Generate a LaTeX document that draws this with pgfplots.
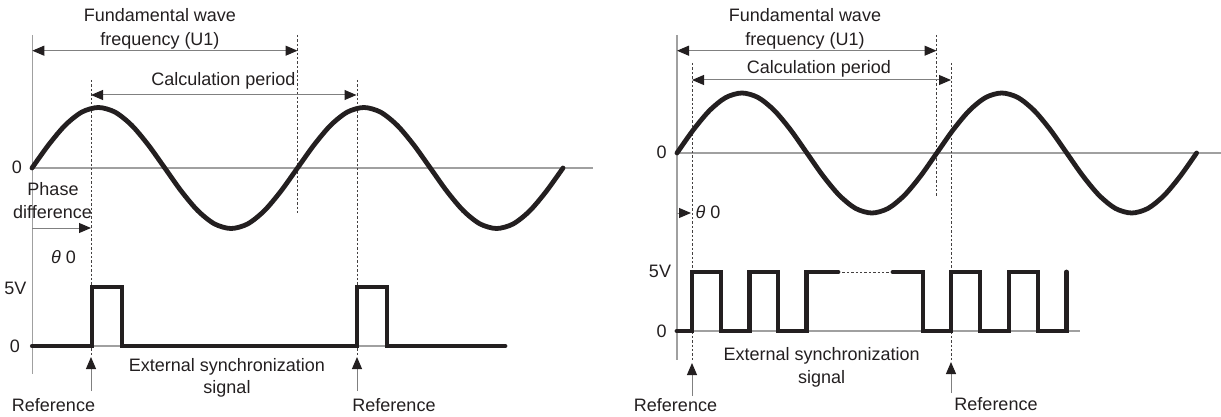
\documentclass[border=0pt]{standalone}
\usepackage{fontspec}
\setmainfont{Liberation Sans}
\usepackage{pgfplots}
\pgfplotsset{compat=1.18}
\usetikzlibrary{arrows.meta}

\definecolor{ink}{HTML}{231F20}
\definecolor{axgray}{HTML}{A0A0A0}
\definecolor{dimgray}{HTML}{808080}

% 1 px of the reference = 0.5pt; y runs downward like the picture
\pgfplotsset{
  panel/.style={
    scale only axis, hide axis, y dir=reverse,
    ymin=0, ymax=417, height=208.5pt, clip=false,
  },
}
\tikzset{
  lbl/.style={anchor=base, text=ink, font=\fontsize{9}{11}\selectfont, inner sep=0pt},
  dim/.style={draw=dimgray, line width=0.5pt, {Triangle[length=6pt, width=5pt, color=ink]}-{Triangle[length=6pt, width=5pt, color=ink]}},
  one/.style={draw=dimgray, line width=0.5pt, -{Triangle[length=6pt, width=5pt, color=ink]}},
  guide/.style={draw=ink!85, line width=0.4pt, dash pattern=on 1.2pt off 1pt},
  base/.style={draw=axgray, line width=0.7pt},
  wave/.style={ink, line width=2.4pt, line cap=round, line join=miter},
}

\begin{document}
\begin{tikzpicture}

%---------------- left panel: single pulse per period
\begin{axis}[panel, xmin=0, xmax=610, width=305pt]
  % axes
  \draw[base] (axis cs:32.3,35) -- (axis cs:32.3,374);
  \draw[base] (axis cs:32.3,168) -- (axis cs:593,168);
  \draw[base] (axis cs:32.3,346) -- (axis cs:505,346);
  % guides
  \draw[guide] (axis cs:91,80) -- (axis cs:91,357);
  \draw[guide] (axis cs:297.5,35) -- (axis cs:297.5,213);
  \draw[guide] (axis cs:357,80) -- (axis cs:357,355);

  \addplot[wave, smooth, no marks] coordinates {
    (32.0,168)(48.6,144.85)(65.2,125.22)(81.8,112.10)(98.4,107.5)
    (115.0,112.10)(131.6,125.22)(148.2,144.85)(164.8,168)
    (181.3,191.15)(197.9,210.78)(214.5,223.90)(231.1,228.5)
    (247.7,223.90)(264.3,210.78)(280.9,191.15)(297.5,168)
    (314.1,144.85)(330.7,125.22)(347.3,112.10)(363.9,107.5)
    (380.5,112.10)(397.1,125.22)(413.7,144.85)(430.3,168)
    (446.8,191.15)(463.4,210.78)(480.0,223.90)(496.6,228.5)
    (513.2,223.90)(529.8,210.78)(546.4,191.15)(563.0,168)
  };
  \addplot[wave, sharp plot, no marks] coordinates {
    (32.3,346)(92,346)(92,287)(122,287)(122,346)
    (357,346)(357,287)(387,287)(387,346)(505,346)
  };

  % arrows
  \draw[dim] (axis cs:32.3,50.7) -- (axis cs:297.5,50.7);
  \draw[dim] (axis cs:91,95) -- (axis cs:356.5,95);
  \draw[one] (axis cs:32.3,228) -- (axis cs:91,228);
  \draw[one] (axis cs:91,391) -- (axis cs:91,357);
  \draw[one] (axis cs:357,391) -- (axis cs:357,357);

  % texts
  \node[lbl] at (axis cs:160,22) {Fundamental wave};
  \node[lbl] at (axis cs:160,46) {frequency (U1)};
  \node[lbl] at (axis cs:223.5,86) {Calculation period};
  \node[lbl] at (axis cs:17,174) {0};
  \node[lbl] at (axis cs:53,195) {Phase};
  \node[lbl] at (axis cs:52.5,219) {difference};
  \node[lbl] at (axis cs:63.5,263) {\textit{θ} 0};
  \node[lbl] at (axis cs:15.5,294) {5V};
  \node[lbl] at (axis cs:15,352) {0};
  \node[lbl] at (axis cs:227,371) {External synchronization};
  \node[lbl] at (axis cs:227,393) {signal};
  \node[lbl] at (axis cs:53.5,411) {Reference};
  \node[lbl] at (axis cs:394,411) {Reference};
\end{axis}

%---------------- right panel: square wave
\begin{axis}[panel, xmin=610, xmax=1221, width=305.5pt, at={(305pt,0)}]
  \draw[base] (axis cs:677,35) -- (axis cs:677,360);
  \draw[base] (axis cs:677,153) -- (axis cs:1221,153);
  \draw[base] (axis cs:677,331) -- (axis cs:1080,331);
  \draw[guide] (axis cs:692,63) -- (axis cs:692,362);
  \draw[guide] (axis cs:936.7,35) -- (axis cs:936.7,197);
  \draw[guide] (axis cs:951,63) -- (axis cs:951,361);
  \draw[guide] (axis cs:838,272) -- (axis cs:893,272);

  \addplot[wave, smooth, no marks] coordinates {
    (677.0,153)(693.2,130.04)(709.5,110.57)(725.7,97.57)(741.95,93)
    (758.2,97.57)(774.4,110.57)(790.7,130.04)(806.9,153)
    (823.1,175.96)(839.4,195.43)(855.6,208.43)(871.9,213)
    (888.1,208.43)(904.3,195.43)(920.6,175.96)(936.8,153)
    (953.0,130.04)(969.3,110.57)(985.5,97.57)(1001.75,93)
    (1018.0,97.57)(1034.2,110.57)(1050.5,130.04)(1066.7,153)
    (1082.9,175.96)(1099.2,195.43)(1115.4,208.43)(1131.7,213)
    (1147.9,208.43)(1164.1,195.43)(1180.4,175.96)(1196.6,153)
  };
  \addplot[wave, sharp plot, no marks] coordinates {
    (677,331)(692,331)(692,272)(721,272)(721,331)(749.5,331)(749.5,272)
    (778,272)(778,331)(806.5,331)(806.5,272)(838,272)
  };
  \addplot[wave, sharp plot, no marks] coordinates {
    (893,272)(923,272)(923,331)(951,331)(951,272)(980,272)(980,331)
    (1009,331)(1009,272)(1038,272)(1038,331)(1066.5,331)(1066.5,272)
  };

  \draw[dim] (axis cs:677,50.7) -- (axis cs:936.5,50.7);
  \draw[dim] (axis cs:692,80) -- (axis cs:951,80);
  \draw[one] (axis cs:677,213) -- (axis cs:691,213);
  \draw[one] (axis cs:692,396) -- (axis cs:692,363);
  \draw[one] (axis cs:951,393) -- (axis cs:951,362);

  \node[lbl] at (axis cs:805,22) {Fundamental wave};
  \node[lbl] at (axis cs:805,46) {frequency (U1)};
  \node[lbl] at (axis cs:819,74) {Calculation period};
  \node[lbl] at (axis cs:661.7,159) {0};
  \node[lbl] at (axis cs:708,219) {\textit{θ} 0};
  \node[lbl] at (axis cs:660,277) {5V};
  \node[lbl] at (axis cs:661.7,337) {0};
  \node[lbl] at (axis cs:821.7,360) {External synchronization};
  \node[lbl] at (axis cs:821.7,383) {signal};
  \node[lbl] at (axis cs:675.5,411) {Reference};
  \node[lbl] at (axis cs:996,410) {Reference};
\end{axis}

\pgfresetboundingbox
\useasboundingbox (0,0) rectangle (610.5pt,208.5pt);
\end{tikzpicture}
\end{document}
